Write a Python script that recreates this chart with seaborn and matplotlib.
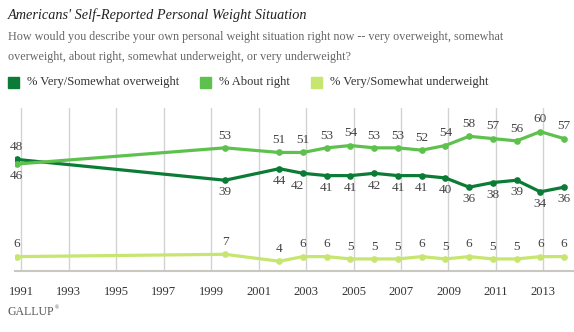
import matplotlib
matplotlib.use("Agg")
import matplotlib.pyplot as plt
import seaborn as sns
import pandas as pd
from matplotlib.patches import Rectangle

# ---- data ----
dates = [1990.8, 1999.58, 2001.87, 2002.87, 2003.87, 2004.87, 2005.87, 2006.87,
         2007.87, 2008.87, 2009.87, 2010.87, 2011.87, 2012.87, 2013.87]
overweight = [48, 39, 44, 42, 41, 41, 42, 41, 41, 40, 36, 38, 39, 34, 36]
about_right = [46, 53, 51, 51, 53, 54, 53, 53, 52, 54, 58, 57, 56, 60, 57]
underweight = [6, 7, 4, 6, 6, 5, 5, 5, 6, 5, 6, 5, 5, 6, 6]
series_names = ["% Very/Somewhat overweight", "% About right", "% Very/Somewhat underweight"]
tick_years = list(range(1991, 2014, 2))

colors = ["#0b7b36", "#5ec14d", "#c6e66f"]
SERIF = ["Liberation Serif", "DejaVu Serif"]

sns.set_theme(style="white")
plt.rcParams["font.family"] = SERIF

df = pd.DataFrame({
    "date": dates * 3,
    "value": overweight + about_right + underweight,
    "series": [series_names[0]] * len(dates) + [series_names[1]] * len(dates) + [series_names[2]] * len(dates),
})

W, H = 574, 332
fig = plt.figure(figsize=(W / 100, H / 100), dpi=100)
ax = fig.add_axes([15 / W, (H - 270.5) / H, (574 - 15) / W, (270.5 - 108.5) / H])

for x in tick_years:
    ax.axvline(x, color="#d2d2d2", lw=1, zorder=0)

sns.lineplot(data=df, x="date", y="value", hue="series", hue_order=series_names,
             palette=colors, ax=ax, legend=False, lw=2.3, marker="o",
             markersize=4.8, markeredgewidth=0, zorder=3)

ax.set_xlim(1990.73, 2014.29)
ax.set_ylim(0, 70)
for s in ["top", "right", "left"]:
    ax.spines[s].set_visible(False)
ax.spines["bottom"].set_color("#c8c8c0")
ax.spines["bottom"].set_linewidth(1.5)
ax.set_xticks(tick_years)
ax.set_xticklabels([str(y) for y in tick_years])
ax.set_yticks([])
ax.tick_params(axis="x", length=0, pad=11, labelsize=9, labelcolor="#333333")
ax.set_xlabel("")
ax.set_ylabel("")

lab_kw = dict(textcoords="offset points", ha="center", va="center",
              fontsize=9.5, color="#444444")
off = 8.8
for i, (d, v) in enumerate(zip(dates, overweight)):
    dy = off if i == 0 else -off
    dx = 0
    if i == 3:
        dx = -4
    ax.annotate(str(v), (d, v), xytext=(dx, dy), **lab_kw)
for i, (d, v) in enumerate(zip(dates, about_right)):
    dy = -off if i == 0 else off
    ax.annotate(str(v), (d, v), xytext=(0, dy), **lab_kw)
for d, v in zip(dates, underweight):
    ax.annotate(str(v), (d, v), xytext=(0, off), **lab_kw)

# ---- header ----
fig.text(8 / W, 1 - 15.5 / H, "Americans' Self-Reported Personal Weight Situation",
         fontsize=10.3, style="italic", color="#222222", va="center", ha="left")
fig.text(8 / W, 1 - 37 / H,
         "How would you describe your own personal weight situation right now -- very overweight, somewhat",
         fontsize=8.7, color="#666666", va="center", ha="left")
fig.text(8 / W, 1 - 57 / H,
         "overweight, about right, somewhat underweight, or very underweight?",
         fontsize=8.7, color="#666666", va="center", ha="left")

# ---- legend ----
leg_x = [8, 200, 311]
for x0, c, name in zip(leg_x, colors, series_names):
    fig.patches.append(Rectangle((x0 / W, 1 - 88 / H), 11 / W, 11 / H,
                                 transform=fig.transFigure, color=c, figure=fig))
    fig.text((x0 + 19) / W, 1 - 82.5 / H, name, fontsize=9, color="#333333",
             va="center", ha="left")

fig.text(8 / W, 1 - 312 / H, "GALLUP", fontsize=8.5, color="#555555",
         va="center", ha="left")
fig.text(55 / W, 1 - 308 / H, "®", fontsize=4, color="#555555", va="center", ha="left")

fig.savefig("out.png", dpi=100)
